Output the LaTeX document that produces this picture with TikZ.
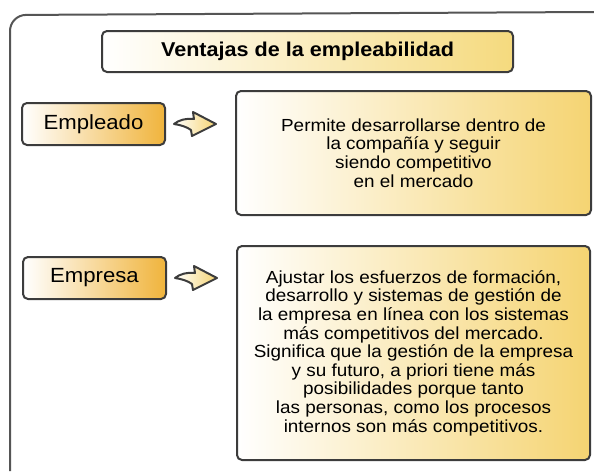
\documentclass[tikz,border=0pt]{standalone}
\usepackage{fontspec}
\setmainfont{Liberation Sans}[FakeStretch=1.08]
\usetikzlibrary{calc}
\definecolor{edgegrey}{HTML}{3C3C3C}
\definecolor{framegrey}{HTML}{555555}
\definecolor{titleyellow}{HTML}{F5DA7E}
\definecolor{labelgold}{HTML}{F0B43C}
\definecolor{textyellow}{HTML}{F5D472}
\begin{document}
\begin{tikzpicture}[x=1pt,y=-1pt,
  box/.style={draw=edgegrey, line width=2pt, rounded corners=5pt, inner sep=0pt, align=center},
  titlebox/.style={box, left color=white, right color=titleyellow, minimum width=411pt, minimum height=41pt, font=\fontsize{20}{22}\selectfont\bfseries},
  labelbox/.style={box, left color=white, right color=labelgold, minimum width=143pt, minimum height=42pt, font=\fontsize{20.5}{22}\selectfont},
  textbox/.style={box, left color=white, right color=textyellow, font=\fontsize{17.5}{18.6}\selectfont},
  blockarrow/.pic={
    \filldraw[draw=edgegrey, line width=2pt, line join=round, left color=white, right color=textyellow]
      (21,0) -- (-2,-12) -- (-1,-5) .. controls (-9,-6) and (-16,-4) .. (-21,0)
      .. controls (-14,1) and (-8,3) .. (-4,6) -- (-3,12) -- cycle;
  }]
\useasboundingbox (0,0) rectangle (594,471);
% outer frame, open on the right and at the bottom
\draw[framegrey, line width=2pt, rounded corners=16pt] (10,471) -- (10,15) -- (594,12);
\node[titlebox] (title) at (307.5,51.5) {Ventajas de la empleabilidad};
\node[labelbox] (empleado) at (93.5,124) {Empleado};
\node[labelbox] (empresa) at (94.5,278) {Empresa};
\node[textbox, minimum width=355pt, minimum height=124pt] (permite) at (413.5,153)
  {Permite desarrollarse dentro de\\la compañía y seguir\\siendo competitivo\\en el mercado};
\node[textbox, minimum width=353pt, minimum height=214pt] (ajustar) at (413.5,353)
  {Ajustar los esfuerzos de formación,\\desarrollo y sistemas de gestión de\\la empresa en línea con los sistemas\\más competitivos del mercado.\\Significa que la gestión de la empresa\\y su futuro, a priori tiene más\\posibilidades porque tanto\\las personas, como los procesos\\internos son más competitivos.};
\pic at ($(empleado.east)!0.42!(permite.west|-empleado.east)$) {blockarrow};
\pic at ($(empresa.east)!0.42!(ajustar.west|-empresa.east)$) {blockarrow};
\end{tikzpicture}
\end{document}
